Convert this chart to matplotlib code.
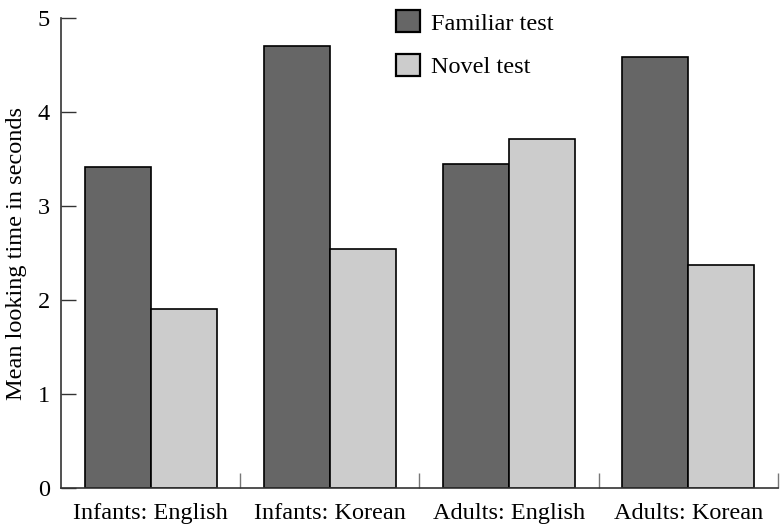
import matplotlib
matplotlib.use("Agg")
import matplotlib.pyplot as plt
import numpy as np
from matplotlib.patches import Patch

groups = ["Infants: English", "Infants: Korean", "Adults: English", "Adults: Korean"]
familiar = [3.42, 4.70, 3.45, 4.58]
novel = [1.90, 2.54, 3.71, 2.37]
series_labels = ["Familiar test", "Novel test"]
yticks = [0, 1, 2, 3, 4, 5]

dark = "#666666"
light = "#cccccc"

plt.rcParams["font.family"] = ["Liberation Serif", "DejaVu Serif"]
plt.rcParams["font.size"] = 17.5

fig = plt.figure(figsize=(7.82, 5.28), dpi=100)
ax = fig.add_axes([61 / 782, 40 / 528, 717 / 782, 470 / 528])

centers = np.arange(len(groups)) + 0.5
w = 0.368
ax.bar(centers - w / 2, familiar, width=w, color=dark, edgecolor="black", linewidth=1.2)
ax.bar(centers + w / 2, novel, width=w, color=light, edgecolor="black", linewidth=1.2)

ax.set_xlim(0, len(groups))
ax.set_ylim(0, 5)

for s in ("top", "right"):
    ax.spines[s].set_visible(False)
for s in ("left", "bottom"):
    ax.spines[s].set_color("#333333")
    ax.spines[s].set_linewidth(1.2)

ax.set_yticks(yticks)
ax.tick_params(axis="y", direction="in", length=11, width=1.0, color="#333333", pad=8)

# group separators as inward major ticks, labels on minor ticks at group centres
ax.set_xticks(np.arange(1, len(groups) + 1))
ax.set_xticklabels([])
ax.tick_params(axis="x", which="major", direction="in", length=11, width=1.0, color="#777777")
ax.set_xticks(centers, minor=True)
ax.set_xticklabels(groups, minor=True)
ax.tick_params(axis="x", which="minor", length=0, pad=11)

ax.set_ylabel("Mean looking time in seconds", labelpad=8)

handles = [Patch(facecolor=dark, edgecolor="black", linewidth=1.6),
           Patch(facecolor=light, edgecolor="black", linewidth=1.6)]
ax.legend(handles, series_labels, loc="upper left", bbox_to_anchor=(325 / 717, 1.037),
          frameon=False, handlelength=1.0, handleheight=1.0, handletextpad=0.45,
          labelspacing=0.8, borderaxespad=0)

fig.savefig("out.png", dpi=100)
